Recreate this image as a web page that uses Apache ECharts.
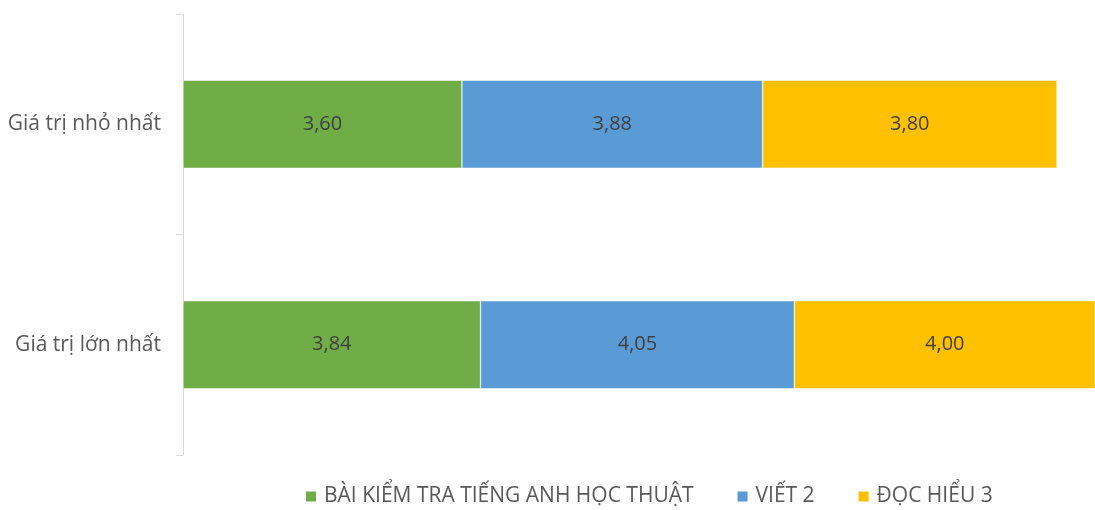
<!DOCTYPE html>
<html><head><meta charset="utf-8">
<script src="https://cdn.jsdelivr.net/npm/echarts@6/dist/echarts.min.js"></script>
<style>html,body{margin:0;padding:0;background:#fff}#c{width:1095px;height:510px}</style>
</head><body><div id="c"></div>
<script>
const categories = ['Giá trị nhỏ nhất', 'Giá trị lớn nhất'];
const seriesNames = ['BÀI KIỂM TRA TIẾNG ANH HỌC THUẬT', 'VIẾT 2', 'ĐỌC HIỂU 3'];
const academicTest = [3.60, 3.84];
const writing2 = [3.88, 4.05];
const reading3 = [3.80, 4.00];
const colors = ['#70AD47', '#5B9BD5', '#FFC000'];
const FONT = '"Open Sans", sans-serif';

const chart = echarts.init(document.getElementById('c'), null, {renderer: 'canvas'});
const mk = (name, data, color) => ({
  name, type: 'bar', stack: 'total', data, barWidth: 88, clip: true,
  itemStyle: {color, borderColor: '#fff', borderWidth: 0.5},
  label: {show: true, position: 'inside', color: '#404040', fontSize: 20, fontFamily: FONT,
    formatter: p => p.value.toFixed(2).replace('.', ',')},
  emphasis: {disabled: true}
});
chart.setOption({
  animation: false,
  grid: {left: 183, right: 0, top: 14, bottom: 55, containLabel: false},
  legend: {top: 481, left: 299, itemWidth: 12, itemHeight: 12, itemGap: 42,
    icon: 'rect', textStyle: {color: '#595959', fontSize: 21, fontFamily: FONT, padding: [0, 0, 0, 2]}},
  xAxis: {type: 'value', min: 0, max: 11.77, show: false},
  yAxis: {type: 'category', data: categories, inverse: true,
    axisLine: {show: true, lineStyle: {color: '#d9d9d9', width: 1}},
    axisTick: {show: true, length: 7, lineStyle: {color: '#d9d9d9'}},
    axisLabel: {color: '#595959', fontSize: 21, fontFamily: FONT, margin: 22},
    splitLine: {show: false}},
  series: [mk(seriesNames[0], academicTest, colors[0]), mk(seriesNames[1], writing2, colors[1]), mk(seriesNames[2], reading3, colors[2])]
});
</script></body></html>
